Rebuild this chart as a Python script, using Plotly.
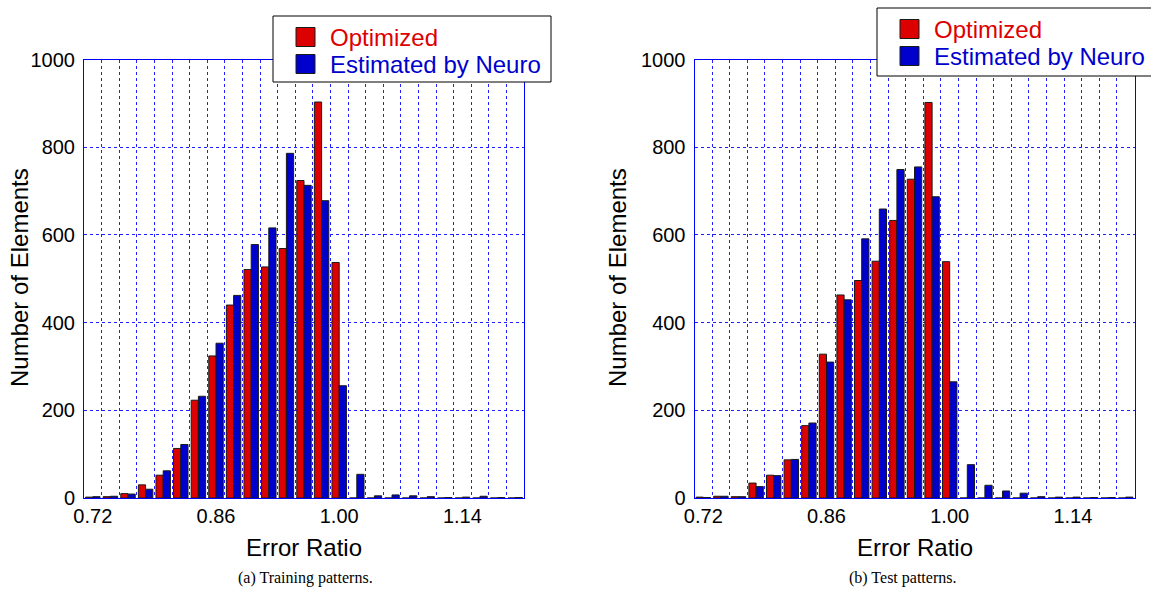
import plotly.graph_objects as go

# Histogram bins (bin centres of the error ratio)
bin_centers = [0.72, 0.74, 0.76, 0.78, 0.80, 0.82, 0.84, 0.86, 0.88, 0.90,
               0.92, 0.94, 0.96, 0.98, 1.00, 1.02, 1.04, 1.06, 1.08, 1.10,
               1.12, 1.14, 1.16, 1.18, 1.20]

# (a) training patterns
train_optimized = [2, 3, 10, 30, 52, 113, 223, 324, 440, 521,
                   527, 569, 724, 903, 537, 0, 0, 0, 0, 0,
                   0, 0, 0, 0, 0]
train_neuro = [3, 4, 9, 20, 62, 122, 232, 353, 462, 578,
               616, 786, 713, 678, 256, 54, 5, 7, 5, 3,
               1, 2, 4, 1, 1]

# (b) test patterns
test_optimized = [2, 4, 3, 34, 52, 87, 165, 328, 463, 496,
                  540, 633, 727, 902, 539, 0, 0, 0, 0, 0,
                  0, 0, 0, 0, 0]
test_neuro = [1, 4, 3, 26, 51, 88, 171, 310, 452, 591,
              659, 749, 755, 687, 265, 76, 29, 16, 11, 3,
              2, 2, 1, 1, 2]

tick_values = [0.72, 0.86, 1.00, 1.14]
tick_labels = ["0.72", "0.86", "1.00", "1.14"]
series_names = ["Optimized", "Estimated by Neuro"]

RED = "#dd0000"
BLUE = "#0000cc"
EDGE = "#1a1a1a"
W, H = 1151, 592
font_main = "Liberation Sans, Arial, sans-serif"

fig = go.Figure()


def add_pair(opt, neuro, xa, ya):
    for vals, color, name, grp in ((opt, RED, series_names[0], "opt"),
                                   (neuro, BLUE, series_names[1], "neuro")):
        fig.add_trace(go.Bar(
            x=bin_centers, y=vals, xaxis=xa, yaxis=ya, name=name,
            marker=dict(color=color, line=dict(color=EDGE, width=1)),
            offsetgroup=grp, showlegend=False))


add_pair(train_optimized, train_neuro, "x", "y")
add_pair(test_optimized, test_neuro, "x2", "y2")

xaxis_common = dict(
    range=[0.71, 1.21], tickmode="array", tickvals=tick_values,
    ticktext=tick_labels, showgrid=False, zeroline=False,
    showline=True, mirror=True, linecolor="#0000ff", linewidth=1,
    ticks="", ticklabelstandoff=0,
    tickfont=dict(family=font_main, size=20, color="black"),
    minor=dict(tick0=0.71, dtick=0.02, showgrid=True, griddash="dot",
               gridcolor="#2020ff", gridwidth=1),
)
yaxis_common = dict(
    range=[0, 1000], dtick=200, showgrid=True, griddash="dot",
    gridcolor="#2020ff", gridwidth=1, zeroline=False,
    showline=True, mirror=True, linecolor="#0000ff", linewidth=1,
    ticks="", ticklabelstandoff=4,
    tickfont=dict(family=font_main, size=20, color="black"),
)

ydom = [(H - 498) / H, (H - 59.5) / H]
x1dom = [84 / W, 524 / W]
x2dom = [694.5 / W, 1134.5 / W]

fig.update_layout(
    width=W, height=H,
    margin=dict(l=0, r=0, t=0, b=0, autoexpand=False),
    paper_bgcolor="white", plot_bgcolor="white",
    barmode="group", bargap=0.18, bargroupgap=0.0,
    xaxis=dict(domain=x1dom, anchor="y", **xaxis_common),
    yaxis=dict(domain=ydom, anchor="x", **yaxis_common),
    xaxis2=dict(domain=x2dom, anchor="y2", **xaxis_common),
    yaxis2=dict(domain=ydom, anchor="x2", **yaxis_common),
)


def px(x):
    return x / W


def py(y):
    return 1 - y / H


# Boxed legends, one per panel (left, top, right, bottom in pixels)
legend_boxes = [(273, 16, 551, 82), (877, 8, 1156, 76)]
for (x0, y0, x1, y1) in legend_boxes:
    fig.add_shape(type="rect", xref="paper", yref="paper",
                  x0=px(x0), x1=px(x1), y0=py(y1), y1=py(y0),
                  line=dict(color="black", width=1), fillcolor="white",
                  layer="above")
    for i, (name, color) in enumerate(zip(series_names, (RED, BLUE))):
        cy = y0 + 21 + 27 * i
        sx = x0 + 23
        fig.add_shape(type="rect", xref="paper", yref="paper",
                      x0=px(sx), x1=px(sx + 19), y0=py(cy + 9.5), y1=py(cy - 9.5),
                      line=dict(color=EDGE, width=1), fillcolor=color,
                      layer="above")
        fig.add_annotation(xref="paper", yref="paper", showarrow=False,
                           x=px(x0 + 55), y=py(cy), xanchor="left",
                           yanchor="middle", text=name,
                           font=dict(family=font_main, size=24, color=color))

annotations = [
    dict(text="Error Ratio", x=px(304), y=py(547)),
    dict(text="Error Ratio", x=px(914.5), y=py(547)),
    dict(text="Number of Elements", x=px(20), y=py(278), textangle=-90),
    dict(text="Number of Elements", x=px(618), y=py(278), textangle=-90),
]
for a in annotations:
    fig.add_annotation(xref="paper", yref="paper", showarrow=False,
                       xanchor="center", yanchor="middle",
                       font=dict(family=font_main, size=24, color="black"), **a)

captions = [
    dict(text="(a) Training patterns.", x=px(305)),
    dict(text="(b) Test patterns.", x=px(902)),
]
for c in captions:
    fig.add_annotation(xref="paper", yref="paper", showarrow=False,
                       xanchor="center", yanchor="middle", y=py(578),
                       font=dict(family="Liberation Serif, Times New Roman, serif",
                                 size=16, color="black"), **c)

fig.write_html("out.html")
